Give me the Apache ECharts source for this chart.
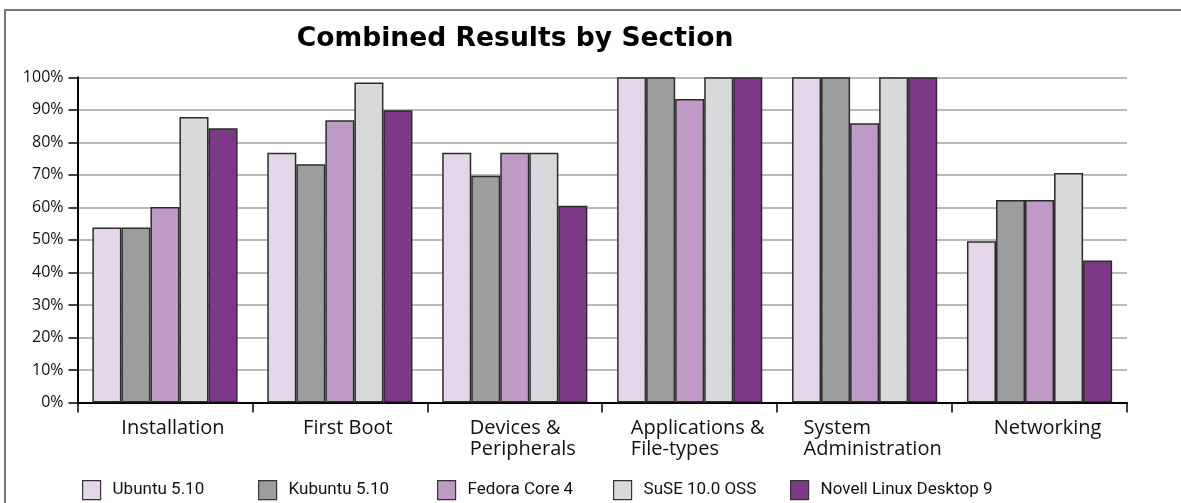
<!DOCTYPE html>
<html><head><meta charset="utf-8">
<script src="https://cdn.jsdelivr.net/npm/echarts@6/dist/echarts.min.js"></script>
<style>html,body{margin:0;padding:0;background:#fff}#c{width:1181px;height:503px}</style>
</head><body><div id="c"></div>
<script>
// ---- data ----
const titleText = 'Combined Results by Section';
const categories = ['Installation', 'First Boot', 'Devices &\nPeripherals', 'Applications &\nFile-types', 'System\nAdministration', 'Networking'];
const seriesNames = ['Ubuntu 5.10', 'Kubuntu 5.10', 'Fedora Core 4', 'SuSE 10.0 OSS', 'Novell Linux Desktop 9'];
const ubuntu  = [53.8, 76.8, 76.8, 100, 100, 49.6];
const kubuntu = [53.8, 73.3, 69.7, 100, 100, 62.3];
const fedora  = [60.1, 86.8, 76.8, 93.3, 85.9, 62.3];
const suse    = [87.8, 98.4, 76.8, 100, 100, 70.6];
const novell  = [84.3, 89.9, 60.5, 100, 100, 43.7];
const yMin = 0, yMax = 100, yStep = 10;

// ---- styles ----
const colors = ['#E3D6E8', '#9C9D9F', '#BF9AC7', '#D8D9DB', '#7D3988'];
const legendLeft = [82, 258, 437, 613, 790];
const sansFont = '"Open Sans", "Noto Sans", sans-serif';
const legendFont = 'Roboto, "Open Sans", sans-serif';

const values = [ubuntu, kubuntu, fedora, suse, novell];

const chart = echarts.init(document.getElementById('c'), null, {renderer: 'canvas'});

const option = {
  backgroundColor: '#ffffff',
  animation: false,
  graphic: [
    {type: 'rect', z: -10, silent: true,
     shape: {x: 5, y: 10, width: 1300, height: 700},
     style: {fill: 'none', stroke: '#7a7a7a', lineWidth: 2}},
    {type: 'text', x: 515, y: 39.5, silent: true,
     style: {text: titleText, align: 'center', verticalAlign: 'middle',
             font: 'bold 26.6px "DejaVu Sans", sans-serif', fill: '#000'}}
  ],
  grid: {left: 77.5, right: 54, top: 77.3, bottom: 100.5, containLabel: false},
  xAxis: {
    type: 'category',
    data: categories,
    axisLine: {lineStyle: {color: '#000', width: 2}},
    axisTick: {show: true, length: 10, lineStyle: {color: '#000', width: 1.5}},
    axisLabel: {
      interval: 0, margin: 16, align: 'center', verticalAlign: 'top',
      padding: [0, 0, 0, 16],
      formatter: v => v.split('\n').map(s => '{a|' + s + '}').join('\n'),
      rich: {a: {align: 'left', fontFamily: sansFont, fontSize: 20, lineHeight: 20.5, color: '#111'}}
    },
    splitLine: {show: false}
  },
  yAxis: {
    type: 'value', min: yMin, max: yMax, interval: yStep,
    axisLine: {show: true, lineStyle: {color: '#000', width: 2}},
    axisTick: {show: true, length: 9, lineStyle: {color: '#000', width: 1.5}},
    axisLabel: {formatter: '{value}%', margin: 14, fontFamily: sansFont, fontSize: 16, color: '#111'},
    splitLine: {show: true, lineStyle: {color: '#a3a3a3', width: 1.5}}
  },
  legend: seriesNames.map((n, i) => ({
    data: [n], left: legendLeft[i], top: 480, padding: 0,
    icon: 'rect', itemWidth: 18, itemHeight: 19, selectedMode: false,
    itemStyle: {borderColor: '#333', borderWidth: 1.2},
    textStyle: {fontFamily: legendFont, fontSize: 17, color: '#111', padding: [0, 0, 0, 7]}
  })),
  series: seriesNames.map((n, i) => ({
    name: n, type: 'bar', data: values[i],
    barGap: '0%', barCategoryGap: '17%',
    itemStyle: {color: colors[i], borderColor: '#2b2b2b', borderWidth: 1.5},
    emphasis: {disabled: true}
  }))
};
chart.setOption(option);
</script></body></html>
